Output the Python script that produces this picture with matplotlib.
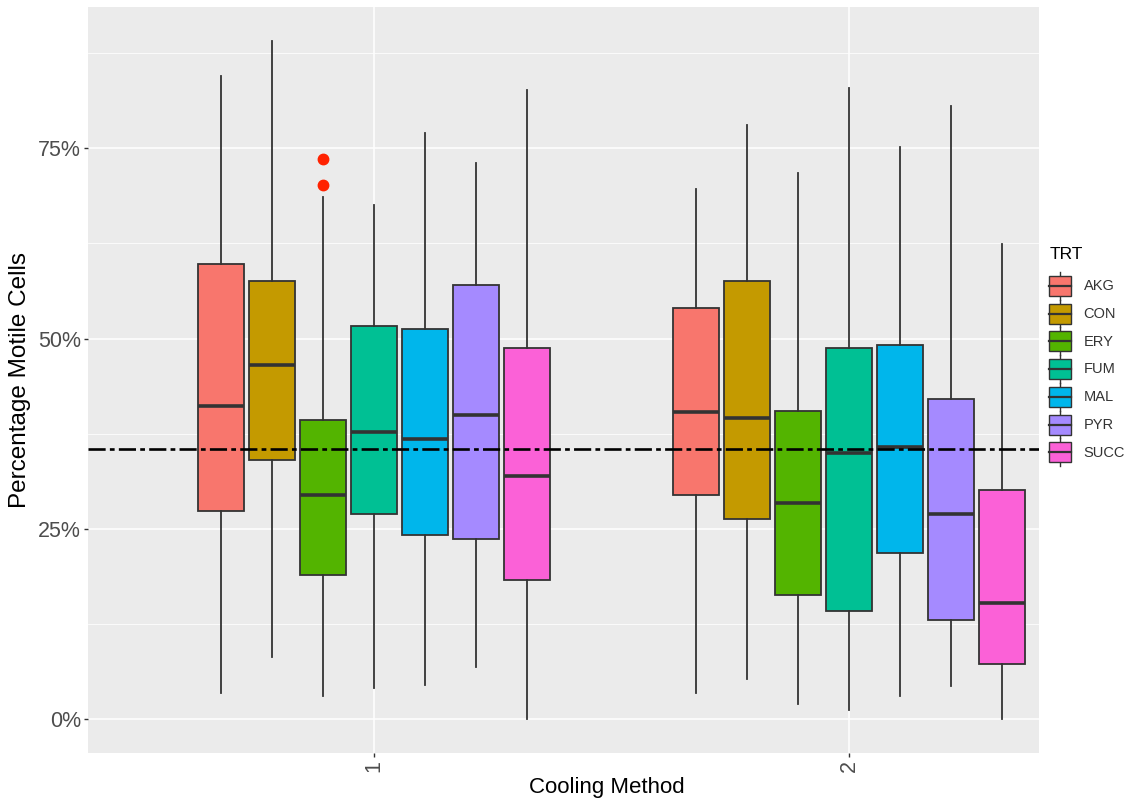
import matplotlib.pyplot as plt
from matplotlib.legend_handler import HandlerBase
from matplotlib.patches import Rectangle
from matplotlib.lines import Line2D
from matplotlib.ticker import FuncFormatter

plt.rcParams['font.family'] = ['Liberation Sans', 'DejaVu Sans']

# Datos por método de enfriamiento (1 y 2) y tratamiento
tratamientos = ['AKG', 'CON', 'ERY', 'FUM', 'MAL', 'PYR', 'SUCC']
colores = ['#F8766D', '#C49A00', '#53B400', '#00C094', '#00B6EB', '#A58AFF', '#FB61D7']
metodos = [1, 2]

bigote_sup_1 = [84.5, 89.1, 68.6, 67.5, 77.0, 73.1, 82.7]
q3_1 = [59.8, 57.5, 39.3, 51.6, 51.2, 57.0, 48.8]
mediana_1 = [41.2, 46.5, 29.5, 37.7, 36.8, 39.9, 31.9]
q1_1 = [27.3, 34.0, 18.9, 26.9, 24.2, 23.6, 18.3]
bigote_inf_1 = [3.4, 8.2, 3.0, 4.1, 4.5, 6.9, 0.0]
atipicos_1 = [[], [], [73.6, 70.2], [], [], [], []]

bigote_sup_2 = [69.7, 78.1, 71.8, 82.9, 75.2, 80.6, 62.4]
q3_2 = [54.0, 57.6, 40.5, 48.7, 49.2, 42.0, 30.1]
mediana_2 = [40.4, 39.6, 28.4, 34.9, 35.8, 27.0, 15.3]
q1_2 = [29.5, 26.3, 16.3, 14.2, 21.8, 13.0, 7.2]
bigote_inf_2 = [3.4, 5.3, 2.0, 1.2, 3.1, 4.4, 0.0]
atipicos_2 = [[], [], [], [], [], [], []]

referencia = 35.45

grupos = [
    (bigote_sup_1, q3_1, mediana_1, q1_1, bigote_inf_1, atipicos_1),
    (bigote_sup_2, q3_2, mediana_2, q1_2, bigote_inf_2, atipicos_2),
]

fig = plt.figure(figsize=(11.3, 8.02), dpi=100)
ax = fig.add_axes([88 / 1130, 49 / 802, 951 / 1130, 746 / 802])
ax.set_facecolor('#EBEBEB')
for s in ax.spines.values():
    s.set_visible(False)

ancho_slot = 0.75 / len(tratamientos)
for metodo, (sup, q3, med, q1, inf, fl) in zip(metodos, grupos):
    for i, trt in enumerate(tratamientos):
        pos = metodo + (i - (len(tratamientos) - 1) / 2) * ancho_slot
        stats = [dict(whishi=sup[i], q3=q3[i], med=med[i], q1=q1[i],
                      whislo=inf[i], fliers=fl[i])]
        ax.bxp(stats, positions=[pos], widths=ancho_slot * 0.9,
               patch_artist=True, showcaps=False, manage_ticks=False,
               boxprops=dict(facecolor=colores[i], edgecolor='#333333', linewidth=1.3),
               medianprops=dict(color='#333333', linewidth=2.6, solid_capstyle='butt'),
               whiskerprops=dict(color='#333333', linewidth=1.3),
               flierprops=dict(marker='o', markerfacecolor='#FF2200',
                               markeredgecolor='#FF2200', markersize=7.5),
               zorder=3)

ax.axhline(referencia, color='black', linewidth=1.9, dashes=(6.5, 1.6, 1.8, 1.6), zorder=4)

ax.set_xlim(0.398, 2.4)
ax.set_ylim(-4.45, 93.55)
ax.set_xticks(metodos)
ax.set_xticklabels([str(m) for m in metodos], rotation=90)
ax.set_yticks([0, 25, 50, 75])
ax.set_yticks([12.5, 37.5, 62.5, 87.5], minor=True)
ax.yaxis.set_major_formatter(FuncFormatter(lambda v, p: f'{v:.0f}%'))
ax.grid(which='major', color='white', linewidth=1.1, zorder=0)
ax.grid(which='minor', axis='y', color='white', linewidth=0.55, zorder=0)
ax.set_axisbelow(True)
ax.tick_params(which='major', length=3, width=1.0, color='#333333',
               labelcolor='#4D4D4D', labelsize=15.5, pad=2)
ax.tick_params(which='minor', length=0)

ax.set_ylabel('Percentage Motile Cells', fontsize=17.5, color='black', va='center')
ax.yaxis.set_label_coords(-0.0715, 0.5)
ax.set_xlabel('Cooling Method', fontsize=16, color='black', va='center')
ax.xaxis.set_label_coords(0.546, -0.046)


class ClaveCaja(HandlerBase):
    # clave de leyenda con forma de caja y bigotes
    def create_artists(self, legend, orig_handle, xdescent, ydescent,
                       width, height, fontsize, trans):
        x0, y0 = -xdescent, -ydescent
        xc = x0 + width / 2
        bigote = Line2D([xc, xc], [y0, y0 + height], color='#333333', lw=1.0)
        caja = Rectangle((x0, y0 + 0.14 * height), width, 0.72 * height,
                         facecolor=orig_handle.get_facecolor(),
                         edgecolor='#333333', lw=1.0)
        mediana = Line2D([x0, x0 + width], [y0 + height / 2] * 2,
                         color='#333333', lw=1.6)
        for a in (bigote, caja, mediana):
            a.set_transform(trans)
        return [bigote, caja, mediana]


manijas = [Rectangle((0, 0), 1, 1, facecolor=c) for c in colores]
leg = fig.legend(manijas, tratamientos, title='TRT', loc='upper left',
                 bbox_to_anchor=(1039 / 1130, (802 - 237) / 802),
                 handler_map={Rectangle: ClaveCaja()}, frameon=False,
                 fontsize=10.5, title_fontsize=12.5, alignment='left',
                 handlelength=1.5, handleheight=2.55, labelspacing=0.0,
                 handletextpad=0.85, borderpad=0.2)
# separación entre el título y las claves
leg._legend_box.sep = 7
for t in leg.get_texts():
    t.set_color('#333333')

fig.savefig('out.png', dpi=100)
